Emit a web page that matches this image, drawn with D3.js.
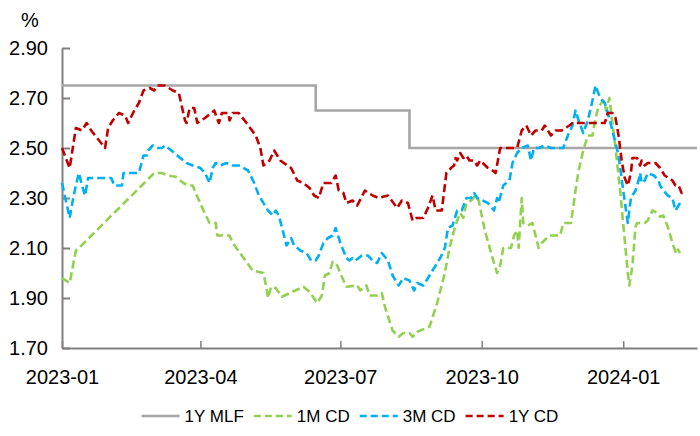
<!DOCTYPE html>
<html>
<head>
<meta charset="utf-8">
<script src="https://cdn.jsdelivr.net/npm/d3@7"></script>
<style>
  html, body { margin: 0; padding: 0; background: #fff; }
  svg { display: block; font-family: "Liberation Sans", Arial, Helvetica, sans-serif; }
</style>
</head>
<body>
<svg id="chart" width="700" height="436"></svg>
<script>
// ---------------- DATA ----------------
const seriesNames = ["1Y MLF", "1M CD", "3M CD", "1Y CD"];
const xTickDates = ["2023-01-01", "2023-04-01", "2023-07-01", "2023-10-01", "2024-01-01"];
const yTickValues = [1.70, 1.90, 2.10, 2.30, 2.50, 2.70, 2.90];
const xDomain = ["2023-01-01", "2024-02-18"];
const yDomain = [1.70, 2.90];

const mlfDates  = ["2023-01-01", "2023-06-15", "2023-08-15", "2024-02-18"];
const mlfValues = [2.75, 2.65, 2.50, 2.50];

const cd1mDates = [
  "2023-01-01","2023-01-06","2023-01-10","2023-01-12","2023-03-02","2023-03-07","2023-03-11","2023-03-16",
  "2023-03-21","2023-03-24","2023-03-27","2023-03-29","2023-04-03","2023-04-07","2023-04-11","2023-04-12",
  "2023-04-20","2023-04-22","2023-04-28","2023-05-05","2023-05-12","2023-05-14","2023-05-15","2023-05-17",
  "2023-05-20","2023-05-24","2023-05-31","2023-06-07","2023-06-11","2023-06-16","2023-06-19","2023-06-21",
  "2023-06-24","2023-06-26","2023-06-29","2023-07-02","2023-07-05","2023-07-12","2023-07-14","2023-07-18",
  "2023-07-20","2023-07-25","2023-07-28","2023-07-30","2023-08-04","2023-08-08","2023-08-11","2023-08-15",
  "2023-08-17","2023-08-20","2023-08-26","2023-08-28","2023-09-02","2023-09-07","2023-09-10","2023-09-13",
  "2023-09-15","2023-09-17","2023-09-19","2023-09-21","2023-09-24","2023-09-27","2023-09-29","2023-10-03",
  "2023-10-08","2023-10-11","2023-10-13","2023-10-15","2023-10-20","2023-10-22","2023-10-24","2023-10-25",
  "2023-10-26","2023-10-27","2023-10-28","2023-10-31","2023-11-03","2023-11-07","2023-11-09","2023-11-14",
  "2023-11-21","2023-11-23","2023-11-28","2023-12-01","2023-12-03","2023-12-06","2023-12-09","2023-12-12",
  "2023-12-14","2023-12-16","2023-12-19","2023-12-21","2023-12-23","2023-12-27","2023-12-30","2024-01-02",
  "2024-01-04","2024-01-05","2024-01-07","2024-01-09","2024-01-10","2024-01-15","2024-01-17","2024-01-20",
  "2024-01-23","2024-01-25","2024-01-27","2024-01-30","2024-02-02","2024-02-04","2024-02-05","2024-02-07"];
const cd1mValues = [
  1.98,1.96,2.09,2.10,2.40,2.40,2.39,2.385,
  2.36,2.35,2.35,2.32,2.25,2.20,2.20,2.15,
  2.15,2.12,2.07,2.01,2.00,1.94,1.90,1.945,
  1.94,1.905,1.925,1.945,1.925,1.88,1.91,1.99,
  2.00,2.045,2.03,1.985,1.945,1.95,1.93,1.95,
  1.91,1.91,1.92,1.865,1.77,1.745,1.76,1.76,
  1.745,1.765,1.78,1.785,1.88,2.00,2.10,2.17,
  2.21,2.24,2.22,2.28,2.29,2.31,2.29,2.17,
  2.06,2.00,2.03,2.10,2.10,2.15,2.17,2.10,
  2.20,2.30,2.20,2.19,2.20,2.10,2.12,2.15,
  2.15,2.20,2.20,2.33,2.41,2.49,2.55,2.55,
  2.62,2.665,2.69,2.65,2.70,2.50,2.33,2.13,
  2.00,1.95,2.03,2.185,2.20,2.20,2.21,2.25,
  2.24,2.225,2.23,2.185,2.12,2.085,2.10,2.08];

const cd3mDates = [
  "2023-01-01","2023-01-06","2023-01-08","2023-01-10","2023-01-12","2023-01-14","2023-01-16","2023-01-18",
  "2023-01-27","2023-02-02","2023-02-04","2023-02-09","2023-02-10","2023-02-20","2023-02-23","2023-02-25",
  "2023-02-26","2023-03-01","2023-03-04","2023-03-07","2023-03-09","2023-03-15","2023-03-23","2023-03-27",
  "2023-04-01","2023-04-04","2023-04-07","2023-04-09","2023-04-11","2023-04-14","2023-04-18","2023-04-22",
  "2023-04-26","2023-05-02","2023-05-06","2023-05-09","2023-05-15","2023-05-18","2023-05-20","2023-05-22",
  "2023-05-25","2023-05-27","2023-05-30","2023-06-01","2023-06-05","2023-06-09","2023-06-12","2023-06-15",
  "2023-06-17","2023-06-20","2023-06-23","2023-06-26","2023-06-28","2023-07-01","2023-07-05","2023-07-07",
  "2023-07-09","2023-07-11","2023-07-15","2023-07-19","2023-07-22","2023-07-25","2023-07-28","2023-08-01",
  "2023-08-04","2023-08-08","2023-08-11","2023-08-15","2023-08-18","2023-08-20","2023-08-24","2023-08-28",
  "2023-09-04","2023-09-07","2023-09-09","2023-09-12","2023-09-15","2023-09-18","2023-09-21","2023-09-24",
  "2023-09-26","2023-09-28","2023-10-05","2023-10-09","2023-10-11","2023-10-12","2023-10-15","2023-10-19",
  "2023-10-21","2023-10-24","2023-10-27","2023-10-31","2023-11-02","2023-11-04","2023-11-07","2023-11-11",
  "2023-11-15","2023-11-23","2023-11-26","2023-11-29","2023-12-01","2023-12-03","2023-12-06","2023-12-09",
  "2023-12-12","2023-12-14","2023-12-17","2023-12-20","2023-12-22","2023-12-25","2023-12-29","2024-01-01",
  "2024-01-04","2024-01-06","2024-01-09","2024-01-11","2024-01-12","2024-01-13","2024-01-15","2024-01-17",
  "2024-01-21","2024-01-24","2024-01-25","2024-01-27","2024-01-30","2024-02-02","2024-02-04","2024-02-06",
  "2024-02-08"];
const cd3mValues = [
  2.36,2.22,2.29,2.35,2.40,2.35,2.31,2.38,
  2.38,2.38,2.35,2.35,2.40,2.40,2.47,2.47,
  2.49,2.51,2.50,2.50,2.51,2.48,2.44,2.43,
  2.42,2.40,2.36,2.42,2.44,2.43,2.44,2.43,
  2.43,2.41,2.36,2.31,2.25,2.23,2.25,2.23,
  2.16,2.11,2.14,2.11,2.09,2.08,2.05,2.05,
  2.07,2.12,2.14,2.15,2.18,2.12,2.06,2.05,
  2.06,2.05,2.07,2.07,2.05,2.04,2.08,2.05,
  1.99,1.95,1.98,1.97,1.93,1.96,1.95,1.99,
  2.06,2.10,2.18,2.19,2.25,2.25,2.30,2.30,
  2.32,2.30,2.28,2.25,2.30,2.28,2.35,2.37,
  2.44,2.48,2.50,2.51,2.45,2.50,2.50,2.51,
  2.50,2.50,2.55,2.59,2.65,2.61,2.56,2.61,
  2.69,2.75,2.70,2.68,2.64,2.57,2.47,2.33,
  2.20,2.30,2.33,2.37,2.40,2.36,2.37,2.40,
  2.39,2.37,2.35,2.33,2.31,2.30,2.25,2.27,
  2.29];

const cd1yDates = [
  "2023-01-01","2023-01-06","2023-01-10","2023-01-14","2023-01-17","2023-01-20","2023-01-29","2023-01-31",
  "2023-02-03","2023-02-07","2023-02-11","2023-02-13","2023-02-17","2023-02-20","2023-02-23","2023-02-27",
  "2023-03-02","2023-03-04","2023-03-09","2023-03-14","2023-03-18","2023-03-22","2023-03-23","2023-03-25",
  "2023-03-28","2023-03-30","2023-04-04","2023-04-10","2023-04-13","2023-04-15","2023-04-19","2023-04-20",
  "2023-04-22","2023-04-26","2023-05-01","2023-05-07","2023-05-10","2023-05-12","2023-05-16","2023-05-19",
  "2023-05-23","2023-05-30","2023-06-03","2023-06-07","2023-06-11","2023-06-14","2023-06-17","2023-06-20",
  "2023-06-25","2023-06-28","2023-06-30","2023-07-03","2023-07-05","2023-07-09","2023-07-12","2023-07-17",
  "2023-07-22","2023-07-26","2023-08-01","2023-08-07","2023-08-10","2023-08-14","2023-08-17","2023-08-19",
  "2023-08-24","2023-08-27","2023-08-30","2023-09-01","2023-09-05","2023-09-08","2023-09-11","2023-09-13",
  "2023-09-14","2023-09-15","2023-09-17","2023-09-19","2023-09-21","2023-09-23","2023-09-26","2023-09-28",
  "2023-09-30","2023-10-05","2023-10-08","2023-10-10","2023-10-13","2023-10-19","2023-10-24","2023-10-27",
  "2023-10-30","2023-11-02","2023-11-05","2023-11-09","2023-11-11","2023-11-15","2023-11-18","2023-11-22",
  "2023-11-27","2023-11-29","2023-12-04","2023-12-11","2023-12-17","2023-12-20","2023-12-22","2023-12-25",
  "2023-12-27","2023-12-29","2023-12-31","2024-01-02","2024-01-04","2024-01-06","2024-01-07","2024-01-10",
  "2024-01-12","2024-01-13","2024-01-15","2024-01-17","2024-01-22","2024-01-25","2024-01-28","2024-02-02",
  "2024-02-04","2024-02-06","2024-02-08","2024-02-10"];
const cd1yValues = [
  2.50,2.42,2.58,2.57,2.60,2.57,2.50,2.58,
  2.61,2.64,2.63,2.60,2.65,2.68,2.73,2.74,
  2.73,2.75,2.75,2.73,2.72,2.61,2.60,2.66,
  2.66,2.60,2.62,2.65,2.60,2.64,2.64,2.61,
  2.64,2.64,2.60,2.55,2.50,2.43,2.45,2.49,
  2.45,2.42,2.37,2.36,2.34,2.31,2.30,2.36,
  2.36,2.39,2.33,2.32,2.28,2.29,2.27,2.33,
  2.31,2.30,2.31,2.26,2.29,2.28,2.21,2.22,
  2.22,2.26,2.31,2.25,2.25,2.40,2.42,2.43,
  2.46,2.45,2.48,2.46,2.47,2.45,2.45,2.43,
  2.45,2.42,2.41,2.40,2.50,2.50,2.50,2.57,
  2.59,2.55,2.57,2.57,2.59,2.55,2.57,2.57,
  2.59,2.60,2.60,2.60,2.60,2.60,2.64,2.64,
  2.62,2.55,2.45,2.38,2.35,2.40,2.46,2.46,
  2.43,2.45,2.43,2.44,2.44,2.42,2.39,2.37,
  2.35,2.35,2.32,2.32];

const seriesColors = ["#a6a6a6", "#92d050", "#00b0f0", "#c00000"];

// ---------------- CHART ----------------
const svg = d3.select("#chart");
const parse = d3.timeParse("%Y-%m-%d");
const margin = { left: 62, right: 3, top: 48, bottom: 88 };
const W = 700, H = 436;

const x = d3.scaleTime()
  .domain(xDomain.map(parse))
  .range([margin.left, W - margin.right]);
const y = d3.scaleLinear()
  .domain(yDomain)
  .range([H - margin.bottom, margin.top]);

const axisColor = "#808080";
const fontSize = 20;

// Y axis
const yAxis = d3.axisLeft(y)
  .tickValues(yTickValues)
  .tickFormat(d3.format(".2f"))
  .tickSizeInner(-8)
  .tickSizeOuter(0)
  .tickPadding(14);
const gy = svg.append("g")
  .attr("transform", `translate(${margin.left},0)`)
  .call(yAxis);
gy.select(".domain").attr("stroke", axisColor).attr("stroke-width", 2);
gy.selectAll(".tick line").attr("stroke", axisColor).attr("stroke-width", 2);
gy.selectAll(".tick text")
  .attr("fill", "#000")
  .style("font-size", fontSize + "px")
  .style("font-family", "'Liberation Sans', Arial, Helvetica, sans-serif");

// X axis
const xAxis = d3.axisBottom(x)
  .tickValues(xTickDates.map(parse))
  .tickFormat(d3.timeFormat("%Y-%m"))
  .tickSizeInner(-7)
  .tickSizeOuter(0)
  .tickPadding(22);
const gx = svg.append("g")
  .attr("transform", `translate(0,${H - margin.bottom})`)
  .call(xAxis);
gx.select(".domain").attr("stroke", axisColor).attr("stroke-width", 2);
gx.selectAll(".tick line").attr("stroke", axisColor).attr("stroke-width", 1.5);
gx.selectAll(".tick text")
  .attr("fill", "#000")
  .style("font-size", fontSize + "px")
  .style("font-family", "'Liberation Sans', Arial, Helvetica, sans-serif");

// unit label
svg.append("text")
  .attr("x", 21).attr("y", 27)
  .style("font-size", fontSize + "px")
  .attr("fill", "#000")
  .text("%");

// Lines
function toPoints(dates, values) {
  return dates.map((d, i) => ({ date: parse(d), value: values[i] }));
}
const stepLine = d3.line().x(d => x(d.date)).y(d => y(d.value)).curve(d3.curveStepAfter);
const line = d3.line().x(d => x(d.date)).y(d => y(d.value));

const plot = svg.append("g");
plot.append("path")
  .datum(toPoints(mlfDates, mlfValues))
  .attr("d", stepLine)
  .attr("fill", "none")
  .attr("stroke", seriesColors[0])
  .attr("stroke-width", 2.6);

const dashed = [
  [cd1mDates, cd1mValues, seriesColors[1]],
  [cd3mDates, cd3mValues, seriesColors[2]],
  [cd1yDates, cd1yValues, seriesColors[3]]
];
dashed.forEach(([ds, vs, c]) => {
  plot.append("path")
    .datum(toPoints(ds, vs))
    .attr("d", line)
    .attr("fill", "none")
    .attr("stroke", c)
    .attr("stroke-width", 2.6)
    .attr("stroke-dasharray", "8,4")
    .attr("stroke-linejoin", "round");
});

// Legend
const legendY = 416;
const legend = svg.append("g");
const sampleLen = 38, sampleGap = 5, itemGap = 10, legendFont = 17;
let cursor = 0;
const items = [];
seriesNames.forEach((name, i) => {
  const g = legend.append("g");
  g.append("line")
    .attr("x1", 0).attr("x2", sampleLen)
    .attr("y1", 0).attr("y2", 0)
    .attr("stroke", seriesColors[i])
    .attr("stroke-width", 2.6)
    .attr("stroke-dasharray", i === 0 ? null : "7,4");
  const t = g.append("text")
    .attr("x", sampleLen + sampleGap)
    .attr("y", 0)
    .attr("dy", "0.35em")
    .style("font-size", legendFont + "px")
    .attr("fill", "#000")
    .text(name);
  const w = sampleLen + sampleGap + t.node().getComputedTextLength();
  items.push({ g, w });
});
const totalW = d3.sum(items, d => d.w) + itemGap * (items.length - 1);
cursor = 350 - totalW / 2;
items.forEach(it => {
  it.g.attr("transform", `translate(${cursor},${legendY})`);
  cursor += it.w + itemGap;
});
</script>
</body>
</html>
